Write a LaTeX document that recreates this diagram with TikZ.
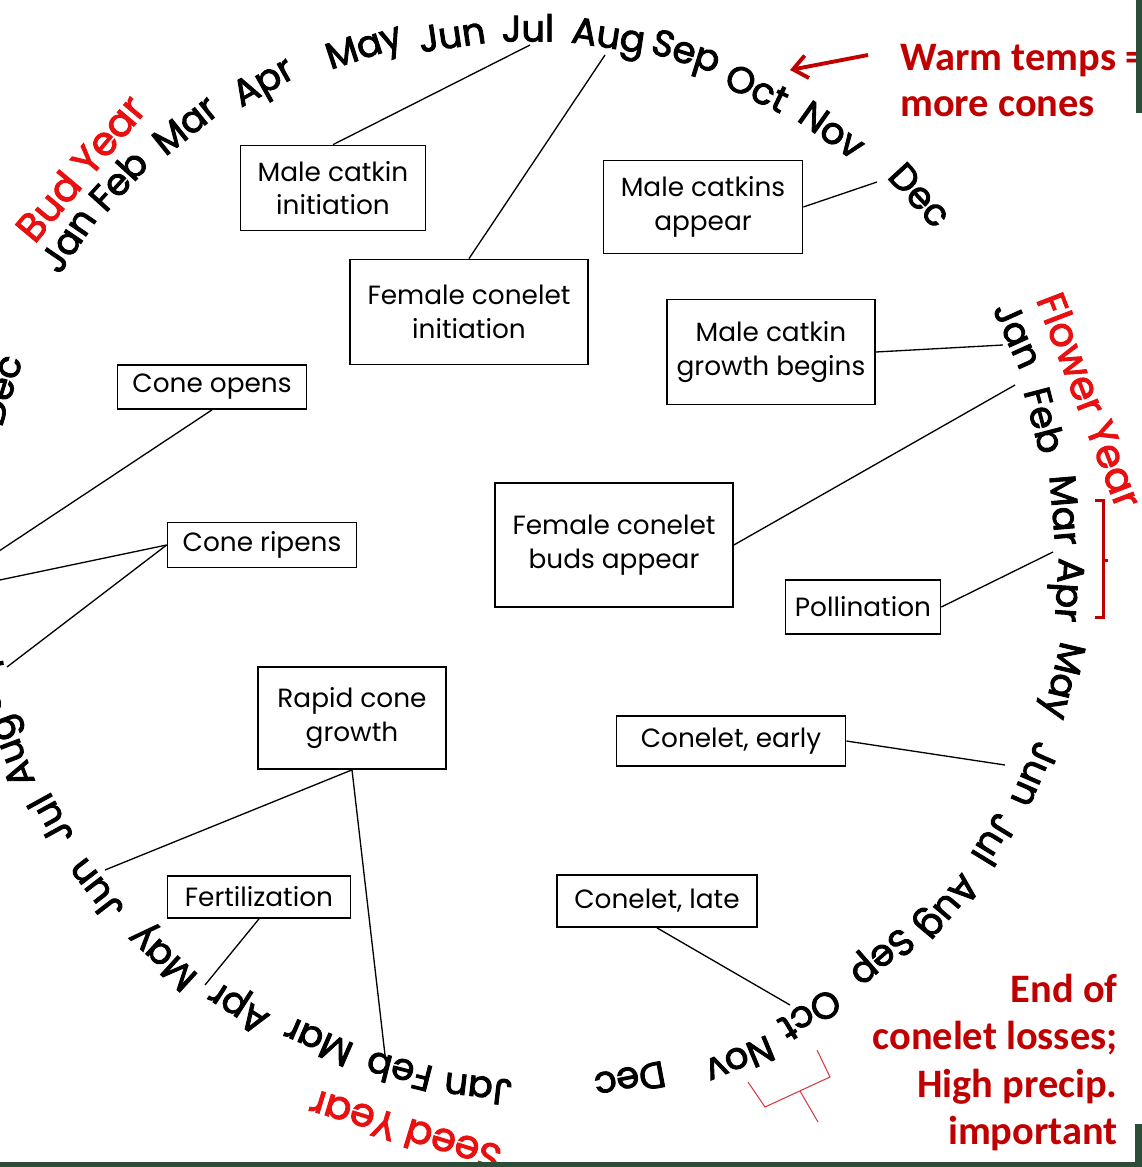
\documentclass[tikz,border=0pt]{standalone}
\usepackage{fontspec}
\setmainfont{Poppins}
\newfontfamily\monthfont{Poppins}[FakeBold=2.5]
\newfontfamily\notefont{Carlito}
\usetikzlibrary{positioning,arrows.meta}
\definecolor{yearred}{RGB}{232,16,16}
\definecolor{notered}{RGB}{192,0,0}
\definecolor{bracketred}{RGB}{214,60,66}
\definecolor{slidegreen}{RGB}{44,78,56}
\tikzset{
	month/.style={font=\monthfont\fontsize{21}{21}\selectfont, inner sep=0pt},
	yearlabel/.style={month, font=\monthfont\fontsize{22.5}{22.5}\selectfont, text=yearred},
	event/.style={draw, line width=1pt, align=center, inner sep=2pt, font=\fontsize{15}{19}\selectfont},
	link/.style={line width=0.75pt},
	note/.style={inner sep=0pt, text=notered, font=\notefont\bfseries\fontsize{23}{26}\selectfont}
}

\begin{document}
\begin{tikzpicture}[x=0.02cm, y=0.02cm]
	\useasboundingbox (0,0) rectangle (1142,-1167);
	\clip (0,0) rectangle (1142,-1167);

	% bud year
	\node[yearlabel, rotate=50] (bud) at (80,-168) {Bud Year};
	\node[month, rotate=55.7]  (bjan) at (68,-240)  {Jan};
	\node[month, rotate=47.7]  (bfeb) at (118,-180) {Feb};
	\node[month, rotate=38.7]  (bmar) at (185,-125) {Mar};
	\node[month, rotate=29.4]  (bapr) at (265,-85)  {Apr};
	\node[month, rotate=18.1]  (bmay) at (365,-50)  {May};
	\node[month, rotate=8.5]   (bjun) at (452,-35)  {Jun};
	\node[month, rotate=0]     (bjul) at (528,-28)  {Jul};
	\node[month, rotate=-8.6]  (baug) at (608,-40)  {Aug};
	\node[month, rotate=-17.2] (bsep) at (685,-55)  {Sep};
	\node[month, rotate=-25.9] (boct) at (757,-88)  {Oct};
	\node[month, rotate=-35.4] (bnov) at (832,-130) {Nov};
	\node[month, rotate=-47.3] (bdec) at (920,-195) {Dec};

	% flower year
	\node[yearlabel, rotate=-69] (flower) at (1090,-400) {Flower Year};
	\node[month, rotate=-65.7]  (fjan) at (1018,-335) {Jan};
	\node[month, rotate=-75.3]  (ffeb) at (1045,-420) {Feb};
	\node[month, rotate=-85.2]  (fmar) at (1065,-510) {Mar};
	\node[month, rotate=-93.7]  (fapr) at (1065,-590) {Apr};
	\node[month, rotate=-103.3] (fmay) at (1060,-680) {May};
	\node[month, rotate=-113.5] (fjun) at (1035,-775) {Jun};
	\node[month, rotate=-121.5] (fjul) at (995,-840)  {Jul};
	\node[month, rotate=-130.1] (faug) at (945,-905)  {Aug};
	\node[month, rotate=-138.8] (fsep) at (880,-955)  {Sep};
	\node[month, rotate=-148.7] (foct) at (810,-1015) {Oct};
	\node[month, rotate=-157.4] (fnov) at (740,-1060) {Nov};
	\node[month, rotate=-169.2] (fdec) at (630,-1080) {Dec};

	% seed year
	\node[yearlabel, rotate=163] (seed) at (405,-1132) {Seed Year};
	\node[month, rotate=173.5] (sjan) at (478,-1089) {Jan};
	\node[month, rotate=165.8] (sfeb) at (399,-1072) {Feb};
	\node[month, rotate=156.6] (smar) at (318,-1042) {Mar};
	\node[month, rotate=147.2] (sapr) at (240,-1005) {Apr};
	\node[month, rotate=137.6] (smay) at (165,-955)  {May};
	\node[month, rotate=127.6] (sjun) at (95,-890)   {Jun};
	\node[month, rotate=118.9] (sjul) at (50,-820)   {Jul};
	\node[month, rotate=110.7] (saug) at (15,-750)   {Aug};
	\node[month, rotate=100]   (ssep) at (-12,-680)  {Sep};
	\node[month, rotate=72.7]  (sdec) at (0,-390)    {Dec};

	% events
	\node[event, minimum width=3.7cm,  minimum height=1.7cm]  (mci) at (333,-188) {Male catkin\\initiation};
	\node[event, minimum width=4.76cm, minimum height=2.1cm]  (fci) at (469,-312) {Female conelet\\initiation};
	\node[event, minimum width=3.98cm, minimum height=1.86cm] (mca) at (703,-207) {Male catkins\\appear};
	\node[event, minimum width=4.16cm, minimum height=2.1cm]  (mcg) at (771,-352) {Male catkin\\growth begins};
	\node[event, minimum width=3.78cm, minimum height=0.88cm] (cop) at (212,-387) {Cone opens};
	\node[event, minimum width=3.78cm, minimum height=0.9cm]  (crp) at (262,-545) {Cone ripens};
	\node[event, minimum width=4.76cm, minimum height=2.48cm] (fcb) at (614,-545) {Female conelet\\buds appear};
	\node[event, minimum width=3.1cm,  minimum height=1.08cm] (pol) at (863,-607) {Pollination};
	\node[event, minimum width=3.76cm, minimum height=2.04cm] (rcg) at (352,-718) {Rapid cone\\growth};
	\node[event, minimum width=4.58cm, minimum height=1.0cm]  (cea) at (731,-741) {Conelet, early};
	\node[event, minimum width=3.66cm, minimum height=0.84cm] (fer) at (259,-897) {Fertilization};
	\node[event, minimum width=4.0cm,  minimum height=1.04cm] (cla) at (657,-901) {Conelet, late};

	% free ends at the months
	\coordinate (atbjul) at (530,-45);
	\coordinate (atbaug) at (605,-55);
	\coordinate (atbdec) at (877,-182);
	\coordinate (atfjan) at (1003,-345);
	\coordinate (atffeb) at (1015,-385);
	\coordinate (atfmar) at (1053,-552);
	\coordinate (atfjun) at (1005,-765);
	\coordinate (atfoct) at (790,-1005);
	\coordinate (atsoct) at (-10,-557);
	\coordinate (atsnov) at (-5,-581);
	\coordinate (atssep) at (7,-667);
	\coordinate (atsjun) at (105,-870);
	\coordinate (atsfeb) at (385,-1055);
	\coordinate (atsmay) at (205,-985);

	\draw[link] (mci.north) -- (atbjul);
	\draw[link] (fci.north) -- (atbaug);
	\draw[link] (mca.east) -- (atbdec);
	\draw[link] (mcg.east) -- (atfjan);
	\draw[link] (fcb.east) -- (atffeb);
	\draw[link] (pol.east) -- (atfmar);
	\draw[link] (cea.east) -- (atfjun);
	\draw[link] (cla.south) -- (atfoct);
	\draw[link] (cop.south) -- (atsoct);
	\draw[link] (crp.west) -- (atsnov);
	\draw[link] (crp.west) -- (atssep);
	\draw[link] (rcg.south) -- (atsjun);
	\draw[link] (rcg.south) -- (atsfeb);
	\draw[link] (fer.south) -- (atsmay);

	% notes
	\node[note, align=left, anchor=north west] (warm) at (900,-44) {Warm temps =\\more cones};
	\coordinate (arrtail) at (868,-55);
	\coordinate (arrtip) at (790,-70);
	\draw[notered, line width=2.2pt, -{Straight Barb[length=8pt, width=13pt]}] (arrtail) -- (arrtip);

	\node[note, align=right, anchor=north east, font=\notefont\bfseries\fontsize{23}{26.9}\selectfont] (endof) at (1118,-974) {End of\\conelet losses;\\High precip.\\important};

	% brackets
	\draw[notered, line width=1.7pt] (1095,-500) -- (1103,-500) -- (1103,-617) -- (1095,-617);
	\draw[notered, line width=1.7pt] (1103,-560) -- (1108,-560);
	\draw[bracketred, line width=0.6pt] (748,-1082) -- (765,-1107) -- (830,-1077) -- (817,-1050);
	\draw[bracketred, line width=0.6pt] (800,-1091) -- (818,-1122);

	% slide edges
	\fill[slidegreen] (1136,0) rectangle (1142,-113);
	\fill[slidegreen] (1135,-1124) rectangle (1142,-1167);
	\fill[slidegreen] (0,-1162) rectangle (1142,-1167);
\end{tikzpicture}
\end{document}
